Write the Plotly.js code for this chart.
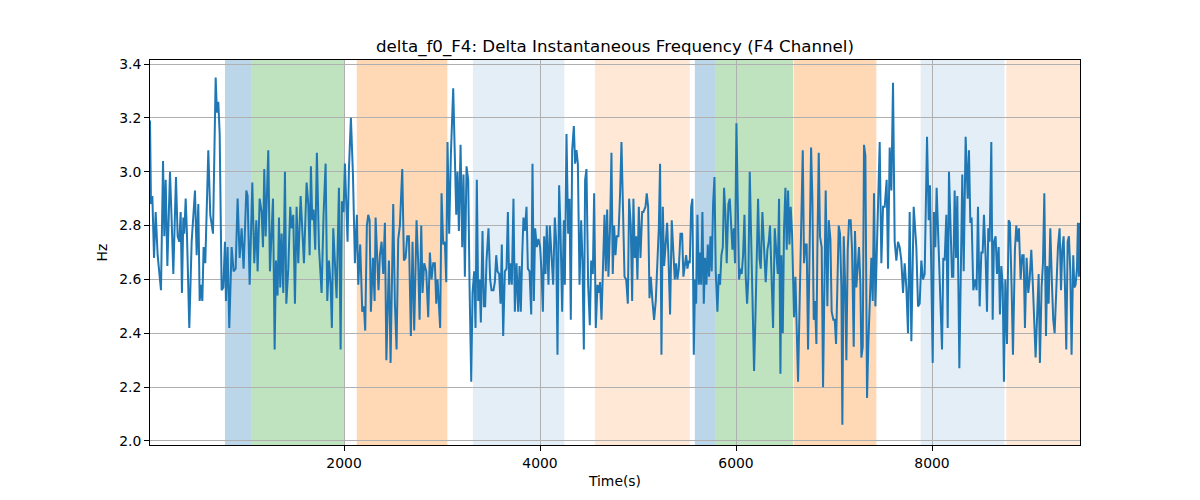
<!DOCTYPE html>
<html>
<head>
<meta charset="utf-8">
<script src="https://cdn.plot.ly/plotly-3.0.1.min.js"></script>
<style>html,body{margin:0;padding:0;background:#fff;}#chart{width:1200px;height:500px;}</style>
</head>
<body>
<div id="chart"></div>
<script>
// ---- data ----
const times = [
20,30,44,61,78,98,132,153,166,180,197,224,241,258,285,302,319,333,346,360,370,384,397,421,445,479,496,513,527,540,554,567,584,615,635,663,690,703,717,731,751,768,785,795,812,829,853,873,894,914,935,955,975,1003,1016,1037,1064,1084,1105,1118,1139,1159,1173,1186,1200,1227,1244,1275,1292,
1305,1322,1336,1349,1363,1380,1397,1411,1431,1451,1465,1482,1499,1516,1533,1557,1574,1591,1618,1635,1649,1662,1676,1689,1706,1723,1744,1771,1791,1812,1829,1846,1863,1876,1890,1907,1924,1948,1965,1978,1995,2009,2036,2050,2070,2091,2111,2131,2145,2165,2186,2203,2216,2233,2247,2261,2274,2295,2312,2322,2339,2352,2366,2383,2400,
2417,2432,2458,2475,2502,2519,2536,2553,2570,2594,2611,2628,2645,2662,2682,2699,2716,2740,2757,2771,2788,2801,2818,2839,2859,2876,2893,2910,2927,2941,2954,2981,2995,3012,3029,3043,3056,3073,3090,3114,3131,3145,3158,3172,3189,3206,3219,3233,3250,3267,3281,3298,3311,3328,3342,3355,3369,3383,3396,3413,3427,3440,3454,3474,3491,3505,3525,3539,3553,3566,3583,3597,3610,3624,3641,3658,3672,3685,3699,3712,3729,
3743,3760,3777,3791,3804,3818,3831,3845,3862,3876,3893,3910,3923,3937,3950,3967,3984,4001,4015,4029,4042,4056,4069,4086,4100,4117,4134,4151,4165,4178,4195,4209,4226,4243,4253,4270,4287,4301,4314,4328,4345,4358,4372,4386,4403,4420,4433,4447,4460,4474,4491,4508,4522,4539,4552,4569,4586,4600,4613,4627,4644,4658,4671,4685,4698,4715,4729,4742,4756,4770,4783,4800,4817,4831,4848,4862,4879,4896,4909,4926,4940,4953,
4967,4981,4994,5008,5025,5042,5055,5076,5089,5103,5117,5130,5147,5164,5181,5198,5212,5225,5239,5253,5266,5280,5297,5310,5327,5344,5358,5375,5389,5402,5416,5433,5450,5463,5477,5491,5504,5518,5528,5542,5555,5569,5582,5593,5606,5620,5633,5644,5657,5671,5684,5698,5712,5725,5739,5752,5766,5780,5793,5810,5824,5837,5851,5865,5878,5892,5905,5922,5936,5950,5963,5977,5990,6004,6018,6031,6045,6058,6072,6086,6099,6113,6126,6140,6154,6167,6184,
6198,6211,6225,6239,6252,6269,6286,6303,6320,6334,6347,6361,6378,6395,6412,6426,6439,6453,6463,6477,6490,6504,6517,6531,6545,6558,6572,6592,6606,6619,6633,6650,6667,6681,6694,6708,6721,6735,6752,6766,6779,6793,6806,6820,6830,6844,6857,6874,6888,6902,6915,6932,6946,6963,6976,6993,7007,7021,7034,7048,7061,7075,7085,7099,7112,7126,7140,7153,7170,7184,7201,7214,7228,7242,7255,7269,7279,7293,7306,7320,7337,7350,7364,7381,7395,7408,
7422,7435,7452,7466,7483,7500,7517,7537,7551,7568,7585,7602,7619,7636,7653,7670,7687,7704,7721,7738,7755,7772,7789,7813,7840,7857,7874,7891,7908,7925,7949,7966,7979,7993,8007,8020,8034,8047,8068,8081,8102,8115,8129,8146,8160,8173,8190,8204,8217,8231,8245,8258,8279,8296,8309,8323,8343,8364,8377,8391,8404,8421,
8442,8455,8469,8486,8503,8517,8530,8547,8561,8574,8588,8605,8619,8632,8649,8663,8680,8693,8707,8721,8734,8748,8765,8782,8795,8812,8826,8846,8860,8874,8887,8904,8921,8935,8948,8965,8982,8996,9013,9030,9044,9057,9074,9088,9101,9118,9132,9146,9163,9176,9190,9207,9224,9237,9251,9268,9285,9302,9316,9329,9343,9356,9370,9384,9397,9411,9424,9441,9452,9465,9479,9489,9499,9510
];
const deltaF0 = [
3.19,2.88,2.91,2.68,2.85,2.69,2.56,3.04,2.76,2.97,2.65,3.00,2.82,2.62,2.98,2.76,2.74,2.85,2.55,2.83,2.77,2.90,2.77,2.42,2.74,2.93,2.69,2.88,2.52,2.58,2.52,2.72,2.66,3.08,2.84,2.77,3.35,3.22,3.26,3.14,2.56,2.57,2.74,2.52,2.72,2.42,2.72,2.63,2.64,2.90,2.68,2.79,2.64,2.93,2.91,2.58,2.96,2.66,2.82,2.63,2.90,2.85,2.72,3.01,2.76,3.08,2.63,2.90,2.34,
2.67,2.54,2.83,2.57,2.77,2.55,3.00,2.51,2.64,2.87,2.79,2.84,2.51,2.87,2.66,2.91,2.78,2.66,2.96,2.88,2.69,3.02,2.82,2.86,2.71,3.07,2.72,2.55,2.84,3.03,2.52,2.67,2.58,2.42,2.79,2.67,2.53,2.94,2.34,2.89,2.85,3.03,2.74,3.01,3.20,2.99,2.66,2.84,2.58,2.73,2.48,2.50,2.41,2.80,2.84,2.82,2.48,2.68,2.52,2.83,2.63,2.56,2.69,2.74,2.62,
2.81,2.30,2.67,2.29,2.88,2.51,2.34,2.75,2.80,3.01,2.67,2.68,2.76,2.76,2.39,2.74,2.41,2.82,2.66,2.45,2.80,2.55,2.66,2.63,2.46,2.70,2.60,2.66,2.66,2.51,2.60,2.42,2.92,2.73,2.74,2.59,3.11,2.77,3.06,3.31,3.08,2.84,3.00,2.78,3.10,2.72,2.99,2.61,3.02,2.97,2.57,2.22,2.55,2.63,2.42,2.97,2.52,2.60,2.44,2.78,2.50,2.50,2.67,2.79,2.60,2.56,2.56,2.59,2.69,2.63,2.62,2.51,2.73,2.39,2.63,2.64,2.85,2.58,2.66,2.58,2.90,
2.48,2.66,2.48,2.65,2.48,2.69,2.83,2.78,2.87,2.64,2.63,2.47,3.03,2.52,2.79,2.72,2.75,2.72,2.63,2.48,2.76,2.62,2.80,2.58,2.80,2.69,2.58,2.83,2.74,2.32,2.95,2.78,2.48,2.82,2.58,3.14,2.77,2.90,2.45,3.08,3.17,3.03,3.08,3.03,2.58,2.82,2.67,2.34,2.97,3.01,2.58,2.43,2.67,2.62,2.92,2.42,2.58,2.55,2.59,2.45,2.64,2.84,2.63,2.86,2.61,2.80,3.07,2.62,2.80,2.69,2.76,2.76,2.92,3.11,2.84,2.61,2.60,2.51,2.90,2.80,2.52,2.90,
2.68,2.76,2.60,2.87,2.68,2.85,2.85,2.87,2.92,2.87,2.53,2.61,2.52,2.45,2.52,2.68,2.79,3.03,2.32,2.87,2.65,2.72,2.81,2.69,2.47,2.82,2.69,2.60,2.66,2.60,2.64,2.77,2.77,2.61,2.65,2.69,2.64,2.67,2.66,2.87,2.90,2.32,2.60,2.51,2.84,2.58,2.70,2.58,2.85,2.51,2.68,2.58,2.73,2.61,2.76,2.63,2.88,2.98,2.63,2.48,2.62,2.58,2.69,2.72,2.94,2.84,2.66,2.88,2.90,2.79,2.71,2.79,2.66,3.18,2.82,2.60,2.64,2.62,2.69,2.84,2.61,2.51,2.61,3.00,2.76,2.57,2.26,
2.46,2.71,2.90,2.68,2.64,2.85,2.72,2.59,2.71,2.74,2.80,2.66,2.42,2.79,2.68,2.62,2.90,2.25,2.69,2.40,2.79,2.94,2.71,2.93,2.73,2.87,2.77,2.46,2.61,2.46,2.22,2.53,2.79,3.08,2.66,2.73,2.73,2.34,2.74,3.09,2.90,2.45,2.52,2.36,2.71,3.07,2.76,2.72,2.20,2.66,2.93,2.50,2.82,2.75,2.48,2.45,2.45,2.36,2.64,2.80,2.77,2.57,2.06,2.76,2.60,2.30,2.71,2.82,2.82,2.71,2.35,2.78,2.57,2.66,2.72,2.58,2.31,2.35,3.10,3.06,2.16,2.36,2.55,2.68,2.52,2.92,
2.50,2.68,2.99,3.11,2.66,2.87,2.87,2.97,2.64,3.09,2.93,3.33,2.74,2.67,2.74,2.72,2.67,2.55,2.66,2.57,2.40,2.85,2.37,2.87,2.72,2.50,2.51,2.67,2.60,2.62,3.13,2.82,2.95,2.69,2.29,2.85,2.72,2.94,2.73,2.62,2.34,2.68,2.67,2.84,2.42,3.00,2.77,2.61,2.61,2.93,2.68,2.91,2.27,2.62,2.99,2.63,3.13,2.90,3.08,2.81,2.83,2.56,
2.60,2.56,2.87,2.50,2.70,2.70,2.84,2.68,2.48,2.79,2.74,3.11,2.45,2.74,2.76,2.62,2.72,2.47,2.65,2.58,2.22,2.60,2.36,2.82,2.81,2.57,2.32,2.71,2.80,2.74,2.79,2.60,2.69,2.69,2.42,2.68,2.55,2.60,2.71,2.57,2.42,2.31,2.48,2.62,2.29,2.57,2.66,2.92,2.39,2.65,2.51,2.79,2.58,2.45,2.40,2.58,2.72,2.79,2.56,2.71,2.76,2.58,2.34,2.74,2.76,2.63,2.32,2.69,2.57,2.58,2.64,2.81,2.61,2.81
];
// shaded event segments (seconds)
const segStart = [785, 1055, 2130, 3315, 4560, 5580, 5786, 6588, 7884, 8758];
const segEnd   = [1055, 2002, 3054, 4248, 5528, 5786, 6582, 7432, 8740, 9600];
const segKind  = ['A','B','C','D','E','A','B','C','D','E'];
const xTicks = [2000, 4000, 6000, 8000];
const yTicks = [2.0, 2.2, 2.4, 2.6, 2.8, 3.0, 3.2, 3.4];

// ---- styles ----
const kindFill = {
  A: 'rgba(31,119,180,0.3)',
  B: 'rgba(44,160,44,0.3)',
  C: 'rgba(255,127,14,0.3)',
  D: 'rgba(31,119,180,0.12)',
  E: 'rgba(255,127,14,0.17)'
};
const font = 'DejaVu Sans, Liberation Sans, sans-serif';

const shapes = segStart.map((s, i) => ({
  type: 'rect', xref: 'x', yref: 'paper',
  x0: s, x1: segEnd[i], y0: 0, y1: 1,
  fillcolor: kindFill[segKind[i]], line: {width: 0}, layer: 'below'
}));

const trace = {
  x: times, y: deltaF0, type: 'scatter', mode: 'lines',
  line: {color: '#1f77b4', width: 2}, hoverinfo: 'skip'
};

const layout = {
  width: 1200, height: 500,
  margin: {l: 150, r: 120, t: 60, b: 55},
  paper_bgcolor: '#ffffff', plot_bgcolor: '#ffffff',
  font: {family: font, size: 13.9, color: '#000000'},
  showlegend: false,
  title: {
    text: 'delta_f0_F4: Delta Instantaneous Frequency (F4 Channel)',
    font: {family: font, size: 16.67, color: '#000000'},
    x: 0.5125, xanchor: 'center', y: 0.908, yanchor: 'middle'
  },
  xaxis: {
    range: [20, 9510],
    tickvals: xTicks, ticktext: xTicks.map(String),
    ticks: 'outside', ticklen: 5, tickwidth: 1, tickcolor: '#000',
    showline: true, linecolor: '#000', linewidth: 1, mirror: true,
    showgrid: true, gridcolor: '#b0b0b0', gridwidth: 1, zeroline: false,
    tickfont: {family: font, size: 13.9, color: '#000'},
    title: {text: 'Time(s)', font: {family: font, size: 13.9, color: '#000'}, standoff: 6}
  },
  yaxis: {
    range: [1.985, 3.415],
    tickvals: yTicks, ticktext: yTicks.map(v => v.toFixed(1)),
    ticks: 'outside', ticklen: 5, tickwidth: 1, tickcolor: '#000',
    showline: true, linecolor: '#000', linewidth: 1, mirror: true,
    showgrid: true, gridcolor: '#b0b0b0', gridwidth: 1, zeroline: false,
    tickfont: {family: font, size: 13.9, color: '#000'},
    title: {text: 'Hz', font: {family: font, size: 13.9, color: '#000'}, standoff: 8}
  },
  shapes: shapes
};

Plotly.newPlot('chart', [trace], layout, {staticPlot: true, displayModeBar: false});
</script>
</body>
</html>
